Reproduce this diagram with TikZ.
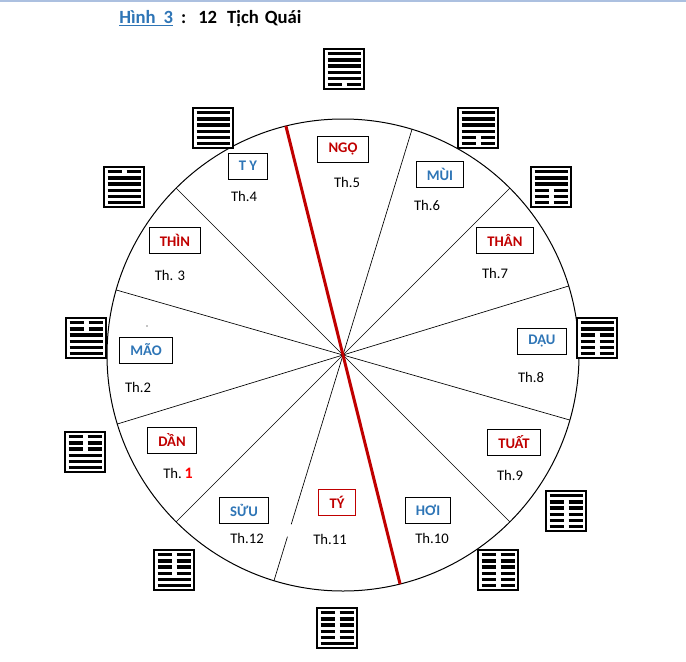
\documentclass[tikz,border=0pt]{standalone}
\usepackage{fontspec}
\setmainfont{Carlito}
\usetikzlibrary{calc}

\definecolor{chired}{RGB}{192,0,0}
\definecolor{chiblue}{RGB}{46,117,182}
\definecolor{rulerblue}{RGB}{172,192,224}

\newcommand{\gua}[2]{%
  \draw[line width=1pt, fill=white] ($(#1)+(-20,-20)$) rectangle ++(40,40);
  \foreach \l [count=\i] in {#2} {
    \ifnum\l=1
      \draw[line width=2.5pt] ($(#1)+(-16.5,-21.5+6.2*\i)$) -- ++(33,0);
    \else
      \draw[line width=2.5pt] ($(#1)+(-16.5,-21.5+6.2*\i)$) -- ++(14,0);
      \draw[line width=2.5pt] ($(#1)+(2.5,-21.5+6.2*\i)$) -- ++(14,0);
    \fi}}

\begin{document}
\begin{tikzpicture}[x=0.75pt, y=-0.75pt,
chi/.style ={rectangle, draw, line width=0.75pt, font=\fontsize{11pt}{13pt}\selectfont\bfseries, inner xsep=8pt, inner ysep=2pt, minimum height=19.5pt},
redname/.style ={chi, text=chired},
bluename/.style ={chi, text=chiblue},
thang/.style ={font=\fontsize{11pt}{13pt}\selectfont, inner sep=0pt}]

\useasboundingbox (0,0) rectangle (686,661);
\fill[rulerblue] (0,0) rectangle (686,2);

\draw (119,23) node[anchor=base west, inner sep=0pt, font=\fontsize{14pt}{16pt}\selectfont\bfseries] (title) {\textcolor{chiblue}{\underline{Hình\hspace{6pt}3}}\hspace{6pt}:\hspace{9pt}12\hspace{7.5pt}Tịch\hspace{4.5pt}Quái};

\coordinate (O) at (343,355);
\draw[line width=0.75pt] (O) circle[radius=177pt];
\foreach \a in {-17,-45,-135,-164} {
  \draw[line width=0.5pt] (O) -- ++(\a:236);
  \draw[line width=0.5pt] (O) -- ++(\a+180:236);
}
\draw[line width=0.5pt] (O) -- ++(-73:236);
\draw[line width=0.5pt] (O) -- ++(107:177);
\draw[line width=0.5pt] ($(O)+(107:190)$) -- ($(O)+(107:236)$);
\draw[draw=chired, line width=2.25pt] ($(O)+(-104:236)$) -- ($(O)+(76:236)$);
\fill (147,326) circle (0.6);

\draw (343,149) node[redname] (Ngo) {NGỌ};
\draw (248,166) node[bluename] (Ty) {T Y};
\draw (440,174) node[bluename] (Mui) {MÙI};
\draw (505,240) node[redname] (Than) {THÂN};
\draw (175,240) node[redname] (Thin) {THÌN};
\draw (146,350) node[bluename] (Mao) {MÃO};
\draw (542,341) node[bluename] (Dau) {DẬU};
\draw (172,440) node[redname] (Dan) {DẦN};
\draw (514,442) node[redname] (Tuat) {TUẤT};
\draw (244,510) node[bluename] (Suu) {SỬU};
\draw (337,502) node[redname, draw=chired] (Tys) {TÝ};
\draw (428,510) node[bluename] (Hoi) {HƠI};

\draw (347,182) node[thang] (Th5) {Th.5};
\draw (244,196) node[thang] (Th4) {Th.4};
\draw (427,205) node[thang] (Th6) {Th.6};
\draw (495,273) node[thang] (Th7) {Th.7};
\draw (170,275) node[thang] (Th3) {Th. 3};
\draw (138,387) node[thang] (Th2) {Th.2};
\draw (531,377) node[thang] (Th8) {Th.8};
\draw (178,473) node[thang] (Th1) {Th.\hspace{2pt}\textcolor{red}{\bfseries\fontsize{12pt}{13pt}\selectfont 1}};
\draw (510,475) node[thang] (Th9) {Th.9};
\draw (247,538) node[thang] (Th12) {Th.12};
\draw (330,539) node[thang] (Th11) {Th.11};
\draw (432,538) node[thang] (Th10) {Th.10};

\gua{344,69}{1,1,1,1,1,0}
\gua{213,128}{1,1,1,1,1,1}
\gua{478,128}{1,1,1,1,0,0}
\gua{551,187}{1,1,1,0,0,0}
\gua{597,338}{1,1,0,0,0,0}
\gua{566,511}{1,0,0,0,0,0}
\gua{498,570}{0,0,0,0,0,0}
\gua{337,628}{0,0,0,0,0,1}
\gua{174,570}{0,0,0,0,1,1}
\gua{85,452}{0,0,0,1,1,1}
\gua{86,338}{0,0,1,1,1,1}
\gua{124,187}{0,1,1,1,1,1}

\end{tikzpicture}
\end{document}
